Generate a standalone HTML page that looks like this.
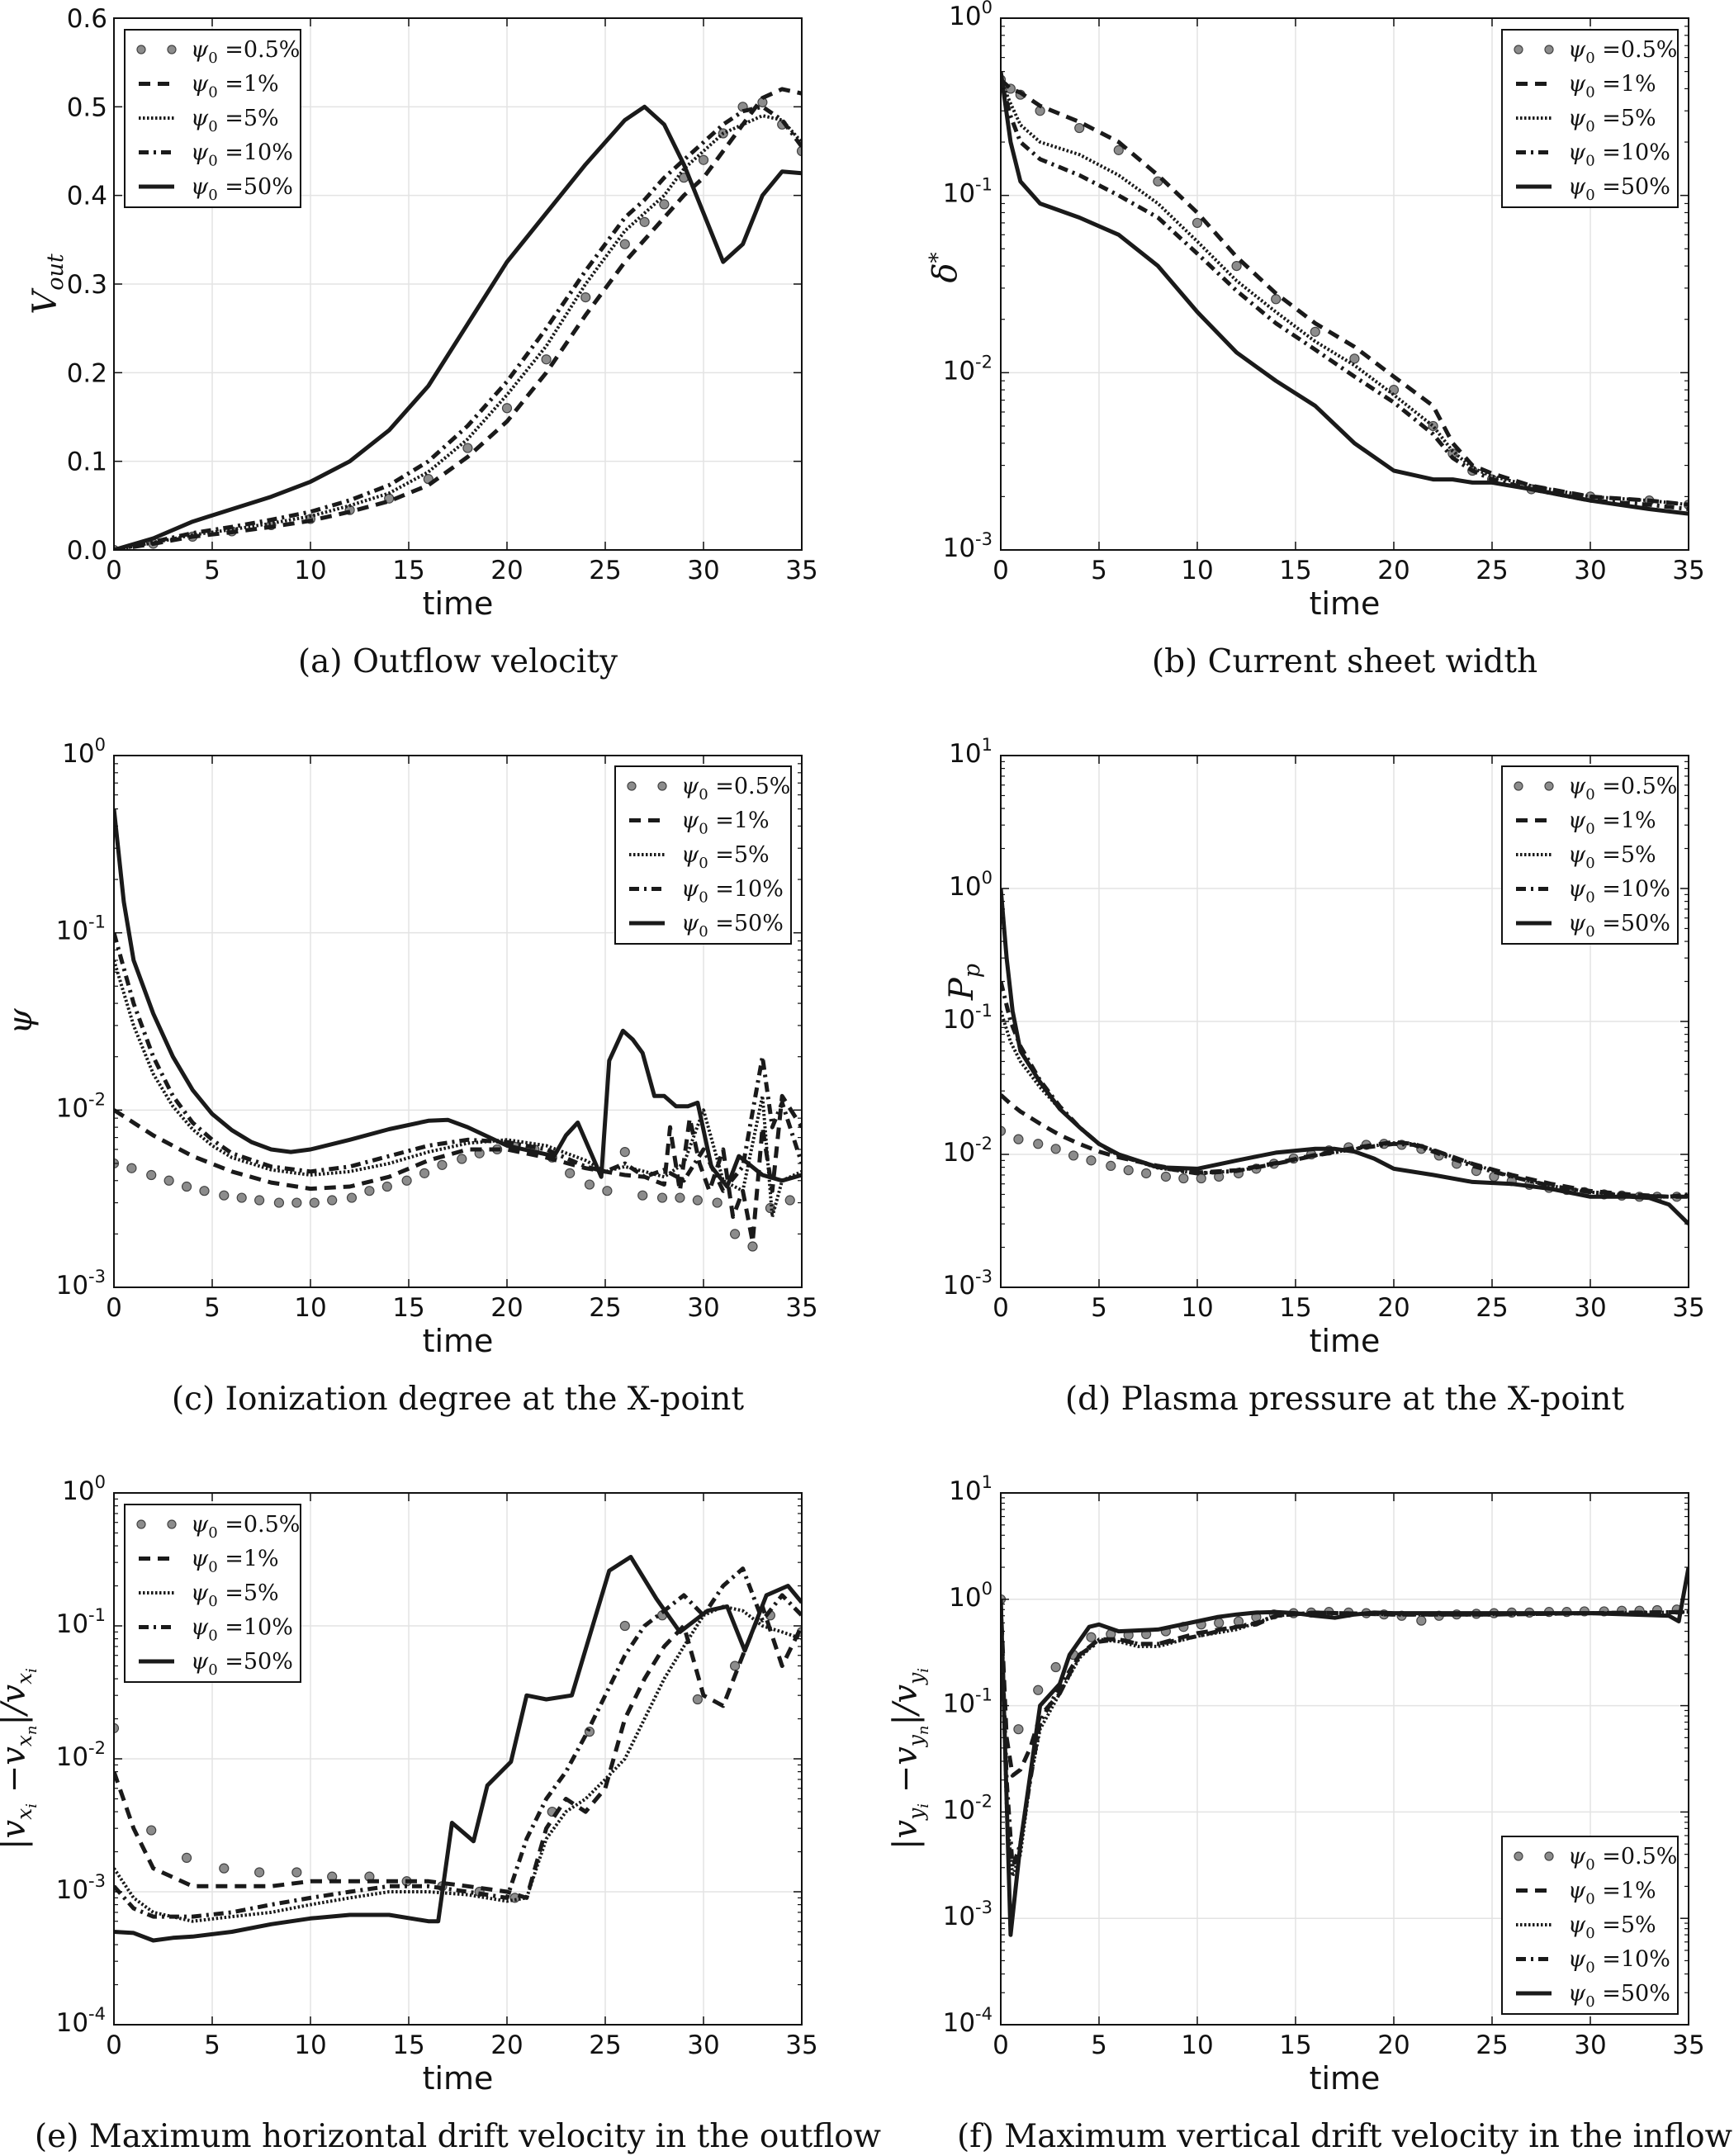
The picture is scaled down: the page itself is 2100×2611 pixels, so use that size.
<!DOCTYPE html>
<html><head><meta charset="utf-8"><style>
html,body{margin:0;padding:0;background:#fff}
svg{display:block}
.tk{font-family:"DejaVu Sans","Liberation Sans",sans-serif;font-size:31px;fill:#111}
.tl{font-family:"DejaVu Sans","Liberation Sans",sans-serif;font-size:38px;fill:#111}
.cap{font-family:"DejaVu Serif","Liberation Serif",serif;font-size:39px;fill:#111}
.lg{font-family:"DejaVu Serif","Liberation Serif",serif;font-size:27px;fill:#111}
.yl{font-family:"DejaVu Serif","Liberation Serif",serif;font-size:40px;font-style:italic;fill:#111}
</style></head><body>
<svg id="fig" width="2100" height="2611" viewBox="0 0 2100 2611" xmlns="http://www.w3.org/2000/svg"></svg>
<script>
// ---------- Panel (a) data: outflow velocity ----------
const aT = [0,2,4,6,8,10,12,14,16,18,20,22,24,26,27,28,29,30,31,32,33,34,35];
const aV50 = [0,.013,.032,.046,.06,.077,.10,.135,.185,.255,.325,.38,.435,.485,.50,.48,.435,.38,.325,.345,.40,.427,.425];
const aV05 = [0,.007,.015,.021,.028,.035,.045,.058,.08,.115,.16,.215,.285,.345,.37,.39,.42,.44,.47,.50,.505,.48,.45];
const aV1 = [0,.007,.015,.02,.026,.033,.043,.055,.073,.105,.145,.20,.265,.325,.35,.375,.40,.42,.45,.48,.51,.52,.515];
const aV5 = [0,.008,.017,.023,.03,.038,.05,.064,.088,.125,.175,.23,.30,.36,.38,.40,.43,.45,.47,.48,.49,.485,.46];
const aV10 = [0,.009,.019,.026,.034,.043,.056,.073,.10,.14,.19,.25,.315,.375,.395,.42,.44,.46,.48,.495,.50,.485,.455];
const aYTicks = [0,0.1,0.2,0.3,0.4,0.5,0.6];
const aYLabels = ["0.0","0.1","0.2","0.3","0.4","0.5","0.6"];
// ---------- Panel (b) data: current sheet width ----------
const bT = [0,0.5,1,2,4,6,8,10,12,14,16,18,20,22,23,24,25,27,30,33,35];
const bV50 = [.5,.2,.12,.09,.075,.06,.04,.022,.013,.009,.0065,.004,.0028,.0025,.0025,.0024,.0024,.0022,.0019,.0017,.0016];
const bV05 = [.45,.4,.37,.3,.24,.18,.12,.07,.04,.026,.017,.012,.008,.005,.0035,.0028,.0025,.0022,.002,.0019,.0018];
const bV1 = [.45,.4,.38,.32,.26,.2,.13,.08,.045,.028,.019,.014,.0095,.0065,.004,.003,.0027,.0023,.002,.0019,.0018];
const bV5 = [.45,.33,.25,.2,.17,.13,.09,.055,.033,.022,.015,.011,.0075,.005,.0036,.0029,.0026,.0023,.002,.0019,.0018];
const bV10 = [.45,.28,.2,.16,.13,.1,.075,.047,.029,.019,.0135,.0095,.0068,.0045,.0033,.0028,.0025,.0022,.0019,.0018,.0017];
// ---------- Panel (c) data: ionization degree ----------
const cT50 = [0,0.5,1,2,3,4,5,6,7,8,9,10,12,14,16,17,18,20,22.4,23,23.6,24.8,25.2,25.9,26.4,26.9,27.5,28,28.6,29.2,29.7,30.4,31.2,31.8,33,34,35];
const cV50 = [.5,.15,.07,.035,.02,.013,.0095,.0077,.0066,.006,.0058,.006,.0068,.0078,.0087,.0088,.008,.0063,.0055,.0072,.0085,.0042,.019,.028,.025,.021,.012,.012,.0105,.0105,.011,.0048,.0037,.0055,.0043,.004,.0043];
const cT10 = [0,1,2,3,4,5,6,8,10,12,14,16,18,20,22,24,25,26,27,28,29,30,31,32,33,33.5,34,35];
const cV10 = [.1,.04,.02,.012,.0085,.0068,.0057,.0048,.0045,.0048,.0055,.0063,.0068,.0066,.006,.0048,.0045,.005,.0042,.0046,.004,.006,.0035,.0048,.02,.008,.011,.005];
const cV5 = [.07,.03,.016,.0105,.0078,.0063,.0054,.0046,.0043,.0045,.005,.0058,.0065,.0068,.0063,.0052,.0045,.0048,.0045,.0042,.005,.01,.004,.0035,.012,.0025,.004,.0045];
const cT1 = [0,2,4,6,8,10,12,14,16,18,20,22,24,26,27,28,28.3,28.8,29.3,29.8,30.3,31,31.5,32,32.5,33,33.5,34,35];
const cV1 = [.01,.0072,.0055,.0045,.0039,.0036,.0037,.0042,.0052,.006,.006,.0054,.0047,.0043,.0042,.0038,.008,.0035,.009,.005,.0035,.006,.0025,.0035,.0018,.008,.0035,.012,.008];
const cT05 = [0,0.9,1.9,2.8,3.7,4.6,5.6,6.5,7.4,8.4,9.3,10.2,11.1,12.1,13,13.9,14.9,15.8,16.7,17.7,18.6,19.5,20.4,21.4,22.3,23.2,24.2,25.1,26,26.9,27.9,28.8,29.7,30.7,31.6,32.5,33.4,34.4];
const cV05 = [.005,.0047,.0043,.004,.0037,.0035,.0033,.0032,.0031,.003,.003,.003,.0031,.0032,.0035,.0037,.004,.0044,.0049,.0053,.0057,.006,.0062,.006,.0054,.0044,.0038,.0035,.0058,.0033,.0032,.0032,.0031,.003,.002,.0017,.0028,.0031];
// ---------- Panel (d) data: plasma pressure ----------
const dT50 = [0,0.3,0.6,1,2,3,4,5,6,8,10,12,14,16,17,18,19,20,22,24,26,28,30,32,33,34,35];
const dV50 = [1,.3,.12,.06,.035,.022,.016,.012,.01,.008,.0078,.009,.0103,.011,.011,.0105,.0093,.0078,.007,.0062,.006,.0055,.0048,.0048,.0047,.0042,.003];
const dT = [0,0.5,1,2,3,4,5,6,8,10,12,14,16,18,20,21,22,24,26,28,30,32,34,35];
const dV10 = [.2,.1,.065,.036,.023,.016,.012,.0098,.008,.0072,.0075,.0085,.0098,.011,.012,.0118,.0105,.0082,.0068,.0058,.0052,.0049,.0048,.005];
const dV5 = [.12,.07,.05,.032,.022,.016,.012,.0098,.0079,.0072,.0075,.0085,.0098,.011,.0122,.012,.0108,.0085,.0068,.0058,.0052,.0049,.0048,.0048];
const dV1 = [.028,.024,.021,.017,.014,.012,.0105,.0095,.0082,.0073,.0076,.0086,.0099,.0112,.0124,.012,.0108,.0085,.007,.006,.0053,.005,.0048,.0048];
const dT05 = [0,0.9,1.9,2.8,3.7,4.6,5.6,6.5,7.4,8.4,9.3,10.2,11.1,12.1,13,13.9,14.9,15.8,16.7,17.7,18.6,19.5,20.4,21.4,22.3,23.2,24.2,25.1,26,26.9,27.9,28.8,29.7,30.7,31.6,32.5,33.4,34.4];
const dV05 = [.015,.013,.012,.011,.0098,.009,.0082,.0076,.0072,.0068,.0066,.0066,.0068,.0072,.0078,.0085,.0093,.01,.0107,.0113,.0118,.012,.0118,.011,.0098,.0085,.0075,.0068,.0063,.0059,.0056,.0054,.0052,.005,.0049,.0048,.0048,.0048];
// ---------- Panel (e) data: horizontal drift velocity ----------
const eT50 = [0,1,2,3,4,6,8,10,12,14,16,16.5,17.2,18.3,19,20.2,21,22,23.3,25.2,26.3,27.6,28.8,30.2,31.2,32.1,33.2,34.3,35];
const eV50 = [.0005,.00049,.00043,.00045,.00046,.0005,.00057,.00063,.00067,.00067,.0006,.0006,.0033,.0024,.0063,.0095,.03,.028,.03,.26,.33,.16,.09,.13,.14,.065,.17,.2,.15];
const eT = [0,1,2,4,6,8,10,12,14,16,18,20,21,22,23,24,25,26,27,28,29,30,31,32,33,34,35];
const eV10 = [.0011,.00075,.00065,.00065,.0007,.0008,.0009,.001,.0011,.0011,.001,.0009,.0025,.005,.008,.015,.03,.06,.1,.13,.17,.12,.2,.27,.11,.17,.12];
const eV5 = [.0015,.0009,.0007,.0006,.00065,.0007,.0008,.0009,.001,.001,.00095,.00085,.0009,.0025,.004,.005,.007,.01,.02,.04,.07,.12,.14,.13,.1,.09,.08];
const eV1 = [.008,.003,.0015,.0011,.0011,.0011,.0012,.0012,.0012,.0012,.0011,.001,.0009,.003,.005,.004,.006,.02,.04,.07,.1,.03,.025,.06,.14,.05,.1];
const eT05 = [0,1.9,3.7,5.6,7.4,9.3,11.1,13,14.9,16.7,18.6,20.4,22.3,24.2,26,27.9,29.7,31.6,33.4,35];
const eV05 = [.017,.0029,.0018,.0015,.0014,.0014,.0013,.0013,.0012,.0011,.001,.0009,.004,.016,.1,.12,.028,.05,.12,.09];
// ---------- Panel (f) data: vertical drift velocity ----------
const fT50 = [0,0.5,1,2,3,3.5,4.5,5,6,8,10,11,12,13,14,15,16,17,18,19,20,25,30,34,34.5,35];
const fV50 = [1,.0007,.005,.1,.16,.3,.55,.58,.5,.52,.62,.68,.72,.75,.76,.74,.7,.67,.72,.75,.74,.74,.74,.7,.62,2];
const fT = [0,0.3,0.6,1,1.5,2,3,4,5,6,7,8,10,12,13,14,16,20,25,30,35];
const fV10 = [.9,.02,.003,.005,.02,.07,.15,.3,.4,.42,.38,.38,.45,.55,.6,.7,.75,.72,.72,.74,.76];
const fV5 = [.9,.01,.0025,.004,.02,.06,.13,.28,.42,.4,.36,.36,.45,.52,.6,.7,.74,.72,.72,.74,.76];
const fV1 = [.9,.05,.022,.025,.04,.08,.13,.3,.42,.42,.38,.38,.48,.55,.58,.7,.75,.72,.72,.74,.76];
const fT05 = [0,0.9,1.9,2.8,3.7,4.6,5.6,6.5,7.4,8.4,9.3,10.2,11.1,12.1,13,13.9,14.9,15.8,16.7,17.7,18.6,19.5,20.4,21.4,22.3,23.2,24.2,25.1,26,26.9,27.9,28.8,29.7,30.7,31.6,32.5,33.4,34.4];
const fV05 = [1,.06,.14,.23,.3,.44,.47,.46,.47,.5,.55,.58,.6,.62,.68,.72,.74,.75,.76,.75,.74,.72,.7,.63,.7,.72,.73,.74,.75,.75,.76,.76,.77,.77,.78,.78,.79,.8];
const xTicks = [0,5,10,15,20,25,30,35];
const legendLabels = ["=0.5%","=1%","=5%","=10%","=50%"];

const NS = "http://www.w3.org/2000/svg";
const svg = document.getElementById('fig');
function mk(tag, attrs, parent){ const e=document.createElementNS(NS,tag); for(const k in attrs) e.setAttribute(k,attrs[k]); (parent||svg).appendChild(e); return e; }

const W=833, H=644;
const styles = {
  s05:{marker:true},
  s1:{w:5,dash:"14,9"},
  s5:{w:4,dash:"2.5,2.5"},
  s10:{w:5,dash:"12,6,3,6"},
  s50:{w:5,dash:null}
};

function panel(p){
  const g = mk('g',{});
  
  
  const x0=p.x, y0=p.y;
  const sx = t => x0 + t/35*W;
  let sy;
  if(p.log){ const a=p.lmin,b=p.lmax; sy = v => y0 + H - (Math.log10(Math.max(v,1e-9))-a)/(b-a)*H; }
  else { sy = v => y0 + H - (v-p.min)/(p.max-p.min)*H; }
  xTicks.forEach(t=>{ mk('line',{x1:sx(t),x2:sx(t),y1:y0,y2:y0+H,stroke:'#e3e3e3','stroke-width':1.5},g); });
  const yt = [];
  if(p.log){ for(let e=p.lmin;e<=p.lmax;e++) yt.push(e); }
  yt.forEach(e=>{ const y = y0+H-(e-p.lmin)/(p.lmax-p.lmin)*H; mk('line',{x1:x0,x2:x0+W,y1:y,y2:y,stroke:'#e3e3e3','stroke-width':1.5},g); });
  if(!p.log) aYTicks.forEach(v=>{ mk('line',{x1:x0,x2:x0+W,y1:sy(v),y2:sy(v),stroke:'#e3e3e3','stroke-width':1.5},g); });
  const clip = mk('clipPath',{id:'clip'+p.id},g);
  mk('rect',{x:x0,y:y0,width:W,height:H},clip);
  const sg = mk('g',{'clip-path':'url(#clip'+p.id+')'},g);
  p.series.forEach(s=>{
    const st = styles[s.k];
    if(st.marker){
      s.t.forEach((t,i)=>{
        const c = mk('circle',{cx:sx(t),cy:sy(s.v[i]),r:5.5,fill:'#8c8c8c',stroke:'#444','stroke-width':1.2},sg);
        
        
      });
    } else {
      const d = s.t.map((t,i)=>(i?'L':'M')+sx(t).toFixed(1)+','+sy(s.v[i]).toFixed(1)).join(' ');
      const a = {d:d,fill:'none',stroke:'#1a1a1a','stroke-width':st.w,'stroke-linejoin':'round'};
      if(st.dash) a['stroke-dasharray']=st.dash;
      const path = mk('path',a,sg);
      
      
    }
  });
  mk('rect',{x:x0,y:y0,width:W,height:H,fill:'none',stroke:'#111','stroke-width':2},g);
  xTicks.forEach(t=>{
    mk('line',{x1:sx(t),x2:sx(t),y1:y0+H,y2:y0+H-10,stroke:'#111','stroke-width':1.5},g);
    mk('line',{x1:sx(t),x2:sx(t),y1:y0,y2:y0+10,stroke:'#111','stroke-width':1.5},g);
    const tx = mk('text',{x:sx(t),y:y0+H+35,'text-anchor':'middle',class:'tk'},g); tx.textContent=t;
  });
  if(p.log){
    for(let e=p.lmin;e<=p.lmax;e++){
      const y = y0+H-(e-p.lmin)/(p.lmax-p.lmin)*H;
      mk('line',{x1:x0,x2:x0+10,y1:y,y2:y,stroke:'#111','stroke-width':1.5},g);
      mk('line',{x1:x0+W,x2:x0+W-10,y1:y,y2:y,stroke:'#111','stroke-width':1.5},g);
      const tx = mk('text',{x:x0-10,y:y+8,'text-anchor':'end',class:'tk'},g);
      tx.textContent='10';
      const sup = mk('tspan',{dy:-14,'font-size':21},tx); sup.textContent=String(e);
      if(e<p.lmax){ for(let m=2;m<10;m++){ const ym=y0+H-(e+Math.log10(m)-p.lmin)/(p.lmax-p.lmin)*H;
        mk('line',{x1:x0,x2:x0+5,y1:ym,y2:ym,stroke:'#111','stroke-width':1.2},g);
        mk('line',{x1:x0+W,x2:x0+W-5,y1:ym,y2:ym,stroke:'#111','stroke-width':1.2},g);} }
    }
  } else {
    aYTicks.forEach((v,i)=>{
      mk('line',{x1:x0,x2:x0+10,y1:sy(v),y2:sy(v),stroke:'#111','stroke-width':1.5},g);
      mk('line',{x1:x0+W,x2:x0+W-10,y1:sy(v),y2:sy(v),stroke:'#111','stroke-width':1.5},g);
      const tx = mk('text',{x:x0-8,y:sy(v)+11,'text-anchor':'end',class:'tk'},g); tx.textContent=aYLabels[i];
    });
  }
  const xl = mk('text',{x:x0+W/2,y:y0+H+78,'text-anchor':'middle',class:'tl'},g); xl.textContent='time';
   
  const yl = mk('text',{x:0,y:0,'text-anchor':'middle',class:'yl',transform:`translate(${p.ylx},${y0+H/2+(p.yoff||0)}) rotate(-90)`},g);
  yl.innerHTML = p.ylabel;
   
  const cp = mk('text',{x:x0+W/2,y:y0+H+148,'text-anchor':'middle',class:'cap'},g); cp.textContent=p.caption;
   
  const lg = mk('g',{},g);
   
  const lx=p.lx, ly=p.ly;
  mk('rect',{x:lx,y:ly,width:213,height:215,fill:'#fff',stroke:'#111','stroke-width':2},lg);
  ['s05','s1','s5','s10','s50'].forEach((k,i)=>{
    const yy = ly+24+i*41.5;
    const st=styles[k];
    if(st.marker){
      mk('circle',{cx:lx+20,cy:yy,r:5,fill:'#8c8c8c',stroke:'#444','stroke-width':1.2},lg);
      mk('circle',{cx:lx+57,cy:yy,r:5,fill:'#8c8c8c',stroke:'#444','stroke-width':1.2},lg);
    } else {
      const a={x1:lx+17,x2:lx+60,y1:yy,y2:yy,stroke:'#1a1a1a','stroke-width':st.w};
      if(st.dash) a['stroke-dasharray']=st.dash;
      mk('line',a,lg);
    }
    const tx = mk('text',{x:lx+80,y:yy+9,class:'lg'},lg);
    tx.innerHTML = '<tspan font-style="italic">ψ</tspan><tspan font-size="18" dy="7">0</tspan><tspan dy="-7"> '+legendLabels[i]+'</tspan>';
     
  });
}

const C1=138, C2=1212, R1=22, R2=915, R3=1808;
panel({id:'a',name:'panel-a-outflow-velocity',x:C1,y:R1,log:false,min:0,max:0.6,ylx:68,
  ylabel:'V<tspan font-size="27" dy="8">out</tspan>',caption:'(a) Outflow velocity',lx:151,ly:36,
  series:[{k:'s05',t:aT,v:aV05},{k:'s1',t:aT,v:aV1},{k:'s5',t:aT,v:aV5},{k:'s10',t:aT,v:aV10},{k:'s50',t:aT,v:aV50}]});
panel({id:'b',name:'panel-b-current-sheet-width',x:C2,y:R1,log:true,lmin:-3,lmax:0,ylx:1158,yoff:-20,
  ylabel:'δ<tspan font-size="26" dy="-14">*</tspan>',caption:'(b) Current sheet width',lx:1819,ly:36,
  series:[{k:'s05',t:bT,v:bV05},{k:'s1',t:bT,v:bV1},{k:'s5',t:bT,v:bV5},{k:'s10',t:bT,v:bV10},{k:'s50',t:bT,v:bV50}]});
panel({id:'c',name:'panel-c-ionization-degree',x:C1,y:R2,log:true,lmin:-3,lmax:0,ylx:38,
  ylabel:'ψ',caption:'(c) Ionization degree at the X-point',lx:745,ly:928,
  series:[{k:'s05',t:cT05,v:cV05},{k:'s1',t:cT1,v:cV1},{k:'s5',t:cT10,v:cV5},{k:'s10',t:cT10,v:cV10},{k:'s50',t:cT50,v:cV50}]});
panel({id:'d',name:'panel-d-plasma-pressure',x:C2,y:R2,log:true,lmin:-3,lmax:1,ylx:1178,yoff:-48,
  ylabel:'P<tspan font-size="27" dy="8">p</tspan>',caption:'(d) Plasma pressure at the X-point',lx:1819,ly:928,
  series:[{k:'s05',t:dT05,v:dV05},{k:'s1',t:dT,v:dV1},{k:'s5',t:dT,v:dV5},{k:'s10',t:dT,v:dV10},{k:'s50',t:dT50,v:dV50}]});
panel({id:'e',name:'panel-e-horizontal-drift',x:C1,y:R3,log:true,lmin:-4,lmax:0,ylx:30,
  ylabel:'|v<tspan font-size="25" dy="8">x</tspan><tspan font-size="18" dy="6">i</tspan><tspan dy="-14"> −v</tspan><tspan font-size="25" dy="8">x</tspan><tspan font-size="18" dy="6">n</tspan><tspan dy="-14">|/v</tspan><tspan font-size="25" dy="8">x</tspan><tspan font-size="18" dy="6">i</tspan>',
  caption:'(e) Maximum horizontal drift velocity in the outflow',lx:151,ly:1822,
  series:[{k:'s05',t:eT05,v:eV05},{k:'s1',t:eT,v:eV1},{k:'s5',t:eT,v:eV5},{k:'s10',t:eT,v:eV10},{k:'s50',t:eT50,v:eV50}]});
panel({id:'f',name:'panel-f-vertical-drift',x:C2,y:R3,log:true,lmin:-4,lmax:1,ylx:1110,
  ylabel:'|v<tspan font-size="25" dy="8">y</tspan><tspan font-size="18" dy="6">i</tspan><tspan dy="-14"> −v</tspan><tspan font-size="25" dy="8">y</tspan><tspan font-size="18" dy="6">n</tspan><tspan dy="-14">|/v</tspan><tspan font-size="25" dy="8">y</tspan><tspan font-size="18" dy="6">i</tspan>',
  caption:'(f) Maximum vertical drift velocity in the inflow',lx:1819,ly:2224,
  series:[{k:'s05',t:fT05,v:fV05},{k:'s1',t:fT,v:fV1},{k:'s5',t:fT,v:fV5},{k:'s10',t:fT,v:fV10},{k:'s50',t:fT50,v:fV50}]});
</script>
</body></html>
